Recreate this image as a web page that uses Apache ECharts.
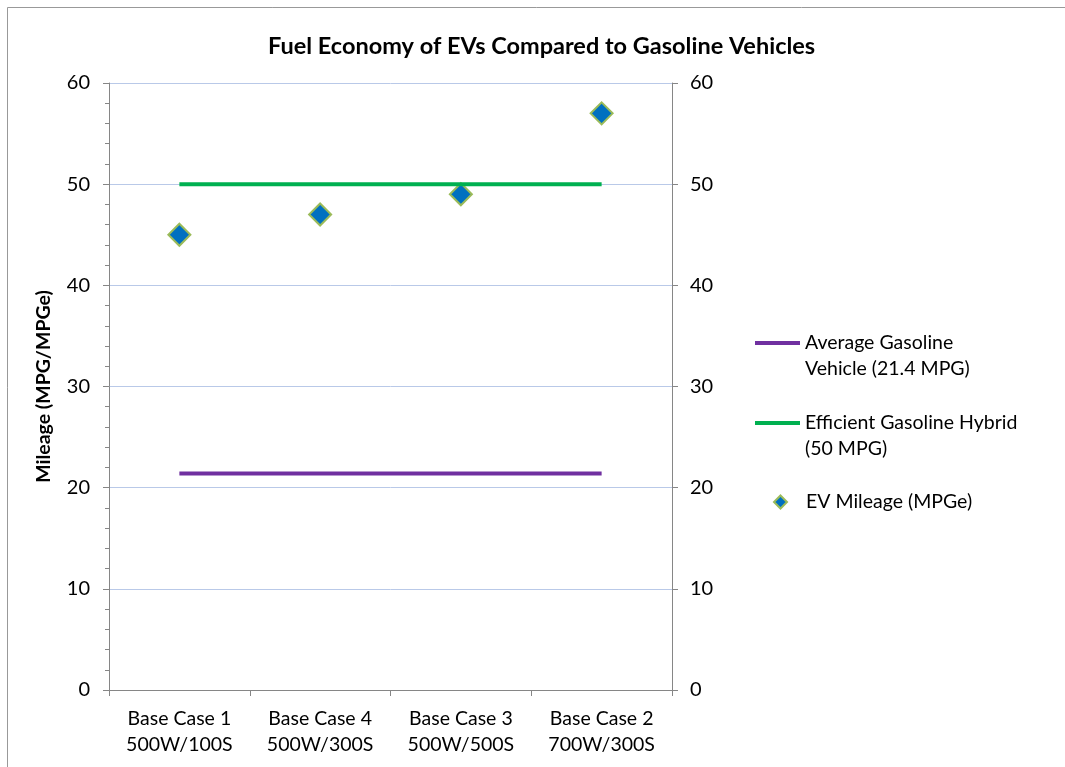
<!DOCTYPE html>
<html>
<head>
<meta charset="utf-8">
<script src="https://cdn.jsdelivr.net/npm/echarts@6/dist/echarts.min.js"></script>
<style>
  html, body { margin: 0; padding: 0; background: #fff; }
  #chart { width: 1065px; height: 767px; }
</style>
</head>
<body>
<div id="chart"></div>
<script>
// 카테고리 (두 줄 라벨)
const categories = ['Base Case 1\n500W/100S', 'Base Case 4\n500W/300S', 'Base Case 3\n500W/500S', 'Base Case 2\n700W/300S'];
// 시리즈 값
const avgGasoline = [21.4, 21.4, 21.4, 21.4];
const hybridGasoline = [50, 50, 50, 50];
const evMileage = [45, 47, 49, 57];
const seriesNames = ['Average Gasoline\nVehicle (21.4 MPG)', 'Efficient Gasoline Hybrid\n(50 MPG)', 'EV Mileage (MPGe)'];

const FONT = 'Lato, "Noto Sans", sans-serif';
const axisGray = '#868686';

const chart = echarts.init(document.getElementById('chart'));

// 두 줄 범례: 빈 줄을 앞에 넣어 아이콘이 첫째 줄에 오도록
const lineLegend = (name, top) => ({
  data: [{ name, icon: 'rect' }],
  orient: 'vertical', left: 755, top, padding: 0,
  itemWidth: 45, itemHeight: 4, itemGap: 0,
  formatter: n => '\n' + n,
  textStyle: { fontFamily: FONT, fontSize: 19.5, color: '#000', lineHeight: 26 }
});

const option = {
  backgroundColor: '#fff',
  animation: false,
  title: {
    text: 'Fuel Economy of EVs Compared to Gasoline Vehicles',
    left: 263, top: 29,
    textStyle: { fontFamily: FONT, fontSize: 23.5, fontWeight: 'bold', color: '#000' }
  },
  legend: [
    lineLegend(seriesNames[0], 304),
    lineLegend(seriesNames[1], 384),
    {
      data: [seriesNames[2]],
      left: 773, top: 489, padding: 0,
      itemWidth: 13, itemHeight: 13,
      textStyle: { fontFamily: FONT, fontSize: 19.5, color: '#000', lineHeight: 26, padding: [0, 0, 0, 14] }
    }
  ],
  graphic: [{
    type: 'rect', silent: true,
    shape: { x: 7.5, y: 7.5, width: 1100, height: 800 },
    style: { fill: 'none', stroke: '#999', lineWidth: 1 }
  }],
  grid: { left: 109, right: 393, top: 83, bottom: 77 },
  xAxis: {
    type: 'category', data: categories, boundaryGap: true,
    axisLine: { lineStyle: { color: axisGray } },
    axisTick: { show: true, length: 6, lineStyle: { color: axisGray } },
    axisLabel: { fontFamily: FONT, fontSize: 19.5, color: '#000', lineHeight: 26, margin: 16, interval: 0 }
  },
  yAxis: [
    {
      type: 'value', min: 0, max: 60, interval: 10,
      name: 'Mileage (MPG/MPGe)', nameLocation: 'middle', nameGap: 55,
      nameTextStyle: { fontFamily: FONT, fontSize: 19.5, fontWeight: 'bold', color: '#000' },
      axisLine: { show: true, lineStyle: { color: axisGray } },
      axisTick: { show: true, length: 6, lineStyle: { color: axisGray } },
      minorTick: { show: true, splitNumber: 5, length: 4, lineStyle: { color: axisGray } },
      axisLabel: { fontFamily: FONT, fontSize: 20, color: '#000', margin: 19 },
      splitLine: { show: true, lineStyle: { color: '#b9c9e8', width: 1 } }
    },
    {
      type: 'value', min: 0, max: 60, interval: 10, position: 'right',
      axisLine: { show: true, lineStyle: { color: axisGray } },
      axisTick: { show: true, length: 6, lineStyle: { color: axisGray } },
      axisLabel: { fontFamily: FONT, fontSize: 20, color: '#000', margin: 18 },
      splitLine: { show: false }
    }
  ],
  series: [
    {
      name: seriesNames[0], type: 'line', data: avgGasoline,
      symbol: 'none', lineStyle: { color: '#7030a0', width: 4 }, itemStyle: { color: '#7030a0' }
    },
    {
      name: seriesNames[1], type: 'line', data: hybridGasoline,
      symbol: 'none', lineStyle: { color: '#00b050', width: 4 }, itemStyle: { color: '#00b050' }
    },
    {
      name: seriesNames[2], type: 'scatter', data: evMileage,
      symbol: 'diamond', symbolSize: 22,
      itemStyle: { color: '#0070c0', borderColor: '#9bbb59', borderWidth: 2, opacity: 1 }
    }
  ]
};

chart.setOption(option);
</script>
</body>
</html>
